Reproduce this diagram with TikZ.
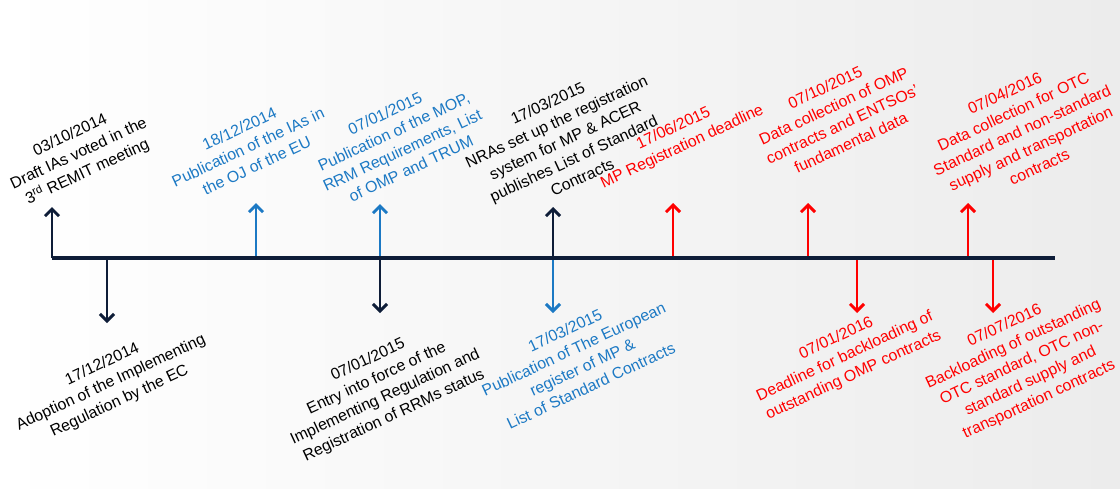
\documentclass[tikz,border=0pt]{standalone}
\usepackage{fontspec}
\setmainfont{Liberation Sans}
\usetikzlibrary{arrows.meta}
\definecolor{navy}{RGB}{14,29,56}
\definecolor{eublue}{RGB}{28,121,196}
\definecolor{ered}{RGB}{255,0,0}
\definecolor{fadegray}{RGB}{236,236,236}
\tikzset{
  milestone/.style={align=center,rotate=25,inner sep=0pt,font=\fontsize{11.3}{14.5}\selectfont},
  tick/.style={line width=2.1pt,-{Straight Barb[length=5pt,width=10pt]}},
}
\begin{document}
\begin{tikzpicture}[x=0.025cm,y=-0.025cm]
  \useasboundingbox (0,0) rectangle (1120,488);
  \shade[left color=white,right color=fadegray] (0,0) rectangle (1120,488);
  % arrows above and below the time line
  \foreach \n/\x/\y/\c in {a/52/207/navy, b/256/203/eublue, c/380/204/eublue, d/553/207/navy,
                           e/673/203/ered, f/808/203/ered, g/968/203/ered,
                           h/107/323/navy, i/380/313/navy, j/553/313/eublue, k/857/313/ered, l/993/313/ered}{
    \coordinate (\n0) at (\x,258);
    \coordinate (\n1) at (\x,\y);
    \draw[tick,\c] (\n0) -- (\n1);
  }
  \coordinate (ts) at (52,258);
  \coordinate (te) at (1055,258);
  \draw[navy,line width=2.8pt] (ts) -- (te);
  % events above
  \node[milestone] (draft) at (79,154) {03/10/2014\\Draft IAs voted in the\\3\textsuperscript{rd} REMIT meeting};
  \node[milestone,text=eublue] (ojeu) at (248,147) {18/12/2014\\Publication of the IAs in\\the OJ of the EU};
  \node[milestone,text=eublue] (mop) at (398,141) {07/01/2015\\Publication of the MOP,\\RRM Requirements, List\\of OMP and TRUM};
  \node[milestone] (nras) at (565,140) {17/03/2015\\NRAs set up the registration\\system for MP \& ACER\\publishes List of Standard\\Contracts};
  \node[milestone,text=ered] (mpreg) at (678,138) {17/06/2015\\MP Registration deadline};
  \node[milestone,text=ered] (ompdata) at (838,115) {07/10/2015\\Data collection of OMP\\contracts and ENTSOs'\\fundamental data};
  \node[milestone,text=ered] (otcdata) at (1022,130) {07/04/2016\\Data collection for OTC\\Standard and non-standard\\supply and transportation\\contracts};
  % events below
  \node[milestone] (adopt) at (111,383) {17/12/2014\\Adoption of the Implementing\\Regulation by the EC};
  \node[milestone] (entry) at (381,388) {07/01/2015\\Entry into force of the\\Implementing Regulation and\\Registration of RRMs status};
  \node[milestone,text=eublue] (register) at (578,358) {17/03/2015\\Publication of The European\\register of MP \&\\List of Standard Contracts};
  \node[milestone,text=ered] (ompback) at (845,357) {07/01/2016\\Deadline for backloading of\\outstanding OMP contracts};
  \node[milestone,text=ered] (otcback) at (1022,363) {07/07/2016\\Backloading of outstanding\\OTC standard, OTC non-\\standard supply and\\transportation contracts};
\end{tikzpicture}
\end{document}
